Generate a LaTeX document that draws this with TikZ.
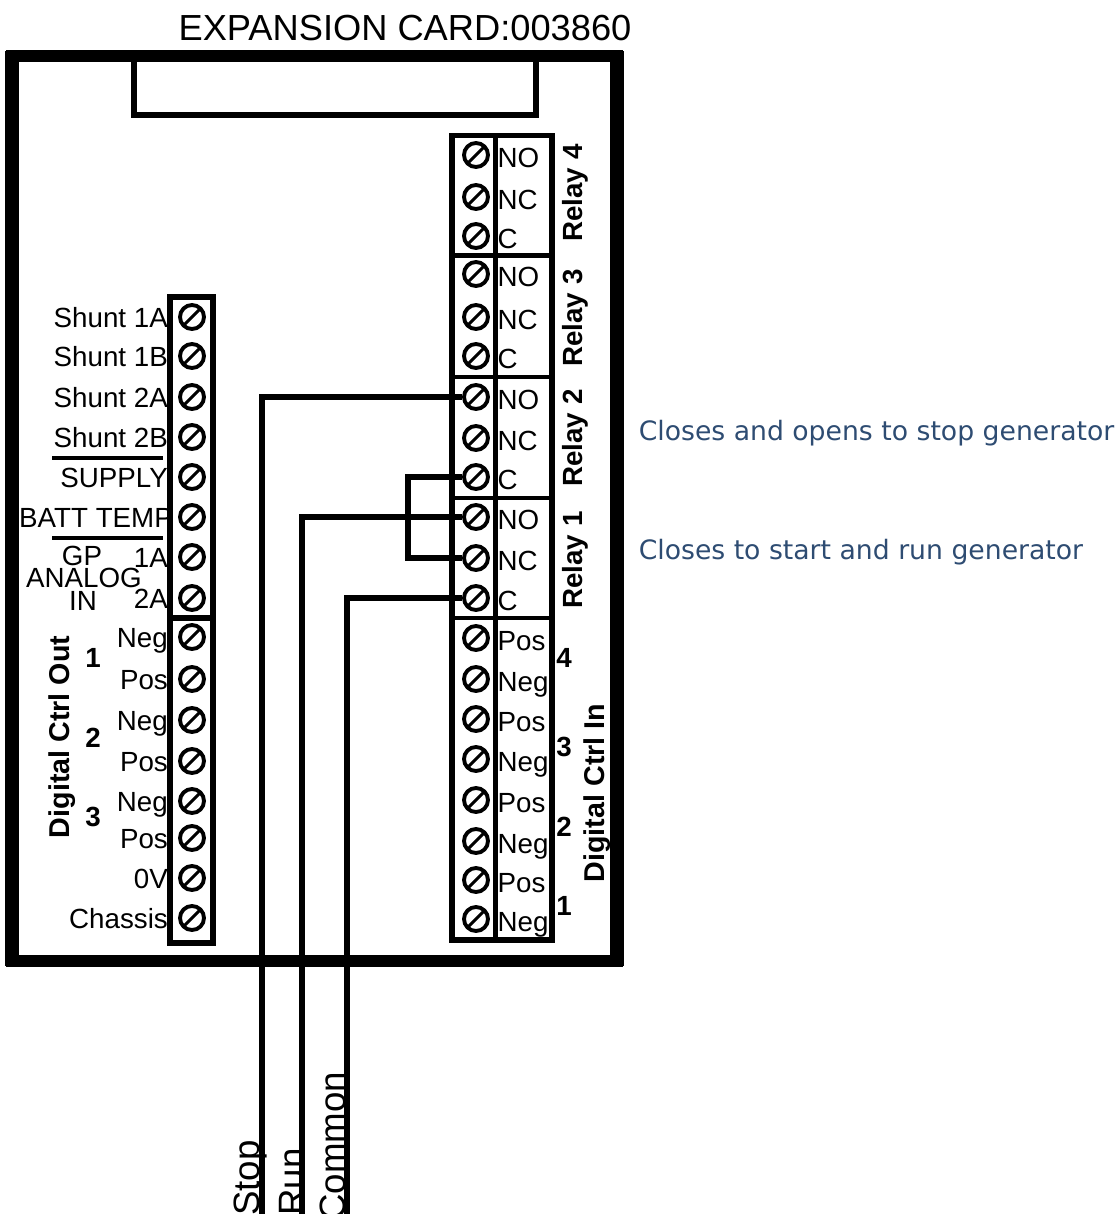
\documentclass[tikz,border=0pt]{standalone}
\usepackage{fontspec}
\setmainfont{Liberation Sans}
\newfontfamily\notefont{DejaVu Sans}
\definecolor{notecol}{HTML}{2E4C72}
\tikzset{
	txt/.style={inner sep=0pt, font=\fontsize{20.8}{22}\selectfont},
	lbl/.style={txt, text height=15pt, text depth=0pt},
	side/.style={inner sep=0pt, font=\fontsize{20.8}{22}\selectfont\bfseries},
	longside/.style={side, rotate=90, font=\fontsize{21.5}{22}\selectfont\bfseries},
	bottomtxt/.style={txt, rotate=90, anchor=base west, font=\fontsize{27.5}{28}\selectfont},
	note/.style={inner sep=0pt, anchor=base west, text=notecol, font=\fontsize{20}{22}\selectfont\notefont},
	screw/.style={draw, circle, line width=2.9pt, minimum size=18pt, inner sep=0pt,
		path picture={\draw[line width=2.3pt] (path picture bounding box.south west) -- (path picture bounding box.north east);}},
	lscrew/.style={screw, label={[lbl, label distance=10*0.75pt]180:#1}},
	rscrew/.style={screw, label={[lbl, yshift=-2pt, label distance=7.5*0.75pt]0:#1}},
	wire/.style={line width=4pt},
	blockline/.style={line width=3.6pt},
	leftline/.style={line width=4.4pt},
}
\begin{document}
\begin{tikzpicture}[x=0.75pt, y=-0.75pt]
		\useasboundingbox (0,0) rectangle (1118,1214);
		
		\node[inner sep=0pt, font=\fontsize{27.2}{28}\selectfont] (title) at (405,28) {EXPANSION CARD:003860};
		
		% left block
		\node[lscrew={Shunt 1A}] (s1a) at (192,317) {};
		\node[lscrew={Shunt 1B}] (s1b) at (192,356) {};
		\node[lscrew={Shunt 2A}] (s2a) at (192,397) {};
		\node[lscrew={Shunt 2B}] (s2b) at (192,437) {};
		\node[lscrew={SUPPLY}] (sup) at (192,477) {};
		\node[screw, label={[lbl, label distance=5*0.75pt]180:BATT TEMP}] (batt) at (192,517) {};
		\node[lscrew={1A}] (an1) at (192,557) {};
		\node[lscrew={2A}] (an2) at (192,598) {};
		\node[lscrew={Neg}] (o1n) at (192,637) {};
		\node[lscrew={Pos}] (o1p) at (192,679) {};
		\node[lscrew={Neg}] (o2n) at (192,720) {};
		\node[lscrew={Pos}] (o2p) at (192,761) {};
		\node[lscrew={Neg}] (o3n) at (192,801) {};
		\node[lscrew={Pos}] (o3p) at (192,838) {};
		\node[lscrew={0V}] (zero) at (192,878) {};
		\node[lscrew={Chassis}] (chas) at (192,918) {};
		
		\node[txt] (gp) at (82,556) {GP};
		\node[txt] (ana) at (84,578) {ANALOG};
		\node[txt] (in) at (83,601) {IN};
		
		% right block
		\node[rscrew={NO}] (r4no) at (476,155) {};
		\node[rscrew={NC}] (r4nc) at (476,197) {};
		\node[rscrew={C}] (r4c) at (476,236) {};
		\node[rscrew={NO}] (r3no) at (476,274) {};
		\node[rscrew={NC}] (r3nc) at (476,317) {};
		\node[rscrew={C}] (r3c) at (476,356) {};
		\node[rscrew={NO}] (r2no) at (476,397) {};
		\node[rscrew={NC}] (r2nc) at (476,438) {};
		\node[rscrew={C}] (r2c) at (476,477) {};
		\node[rscrew={NO}] (r1no) at (476,517) {};
		\node[rscrew={NC}] (r1nc) at (476,558) {};
		\node[rscrew={C}] (r1c) at (476,598) {};
		\node[rscrew={Pos}] (i4p) at (476,638) {};
		\node[rscrew={Neg}] (i4n) at (476,679) {};
		\node[rscrew={Pos}] (i3p) at (476,719) {};
		\node[rscrew={Neg}] (i3n) at (476,759) {};
		\node[rscrew={Pos}] (i2p) at (476,800) {};
		\node[rscrew={Neg}] (i2n) at (476,841) {};
		\node[rscrew={Pos}] (i1p) at (476,880) {};
		\node[rscrew={Neg}] (i1n) at (476,919) {};
		
		% side texts
		\node[longside] (dout) at (62,737) {Digital Ctrl Out};
		\node[side] (n1) at (93,658) {1};
		\node[side] (n2) at (93,738) {2};
		\node[side] (n3) at (93,817) {3};
		\node[side, rotate=90] (rel4) at (575,193) {Relay 4};
		\node[side, rotate=90] (rel3) at (575,318) {Relay 3};
		\node[side, rotate=90] (rel2) at (575,438) {Relay 2};
		\node[side, rotate=90] (rel1) at (575,560) {Relay 1};
		\node[longside] (din) at (597,793) {Digital Ctrl In};
		\node[side] (m4) at (564,658) {4};
		\node[side] (m3) at (564,747) {3};
		\node[side] (m2) at (564,827) {2};
		\node[side] (m1) at (564,906) {1};
		
		\node[bottomtxt] (stop) at (259,1216) {Stop};
		\node[bottomtxt] (run) at (304,1216) {Run};
		\node[bottomtxt] (com) at (345,1221) {Common};
		
		% frames
		\draw[line width=9pt] (12,56) rectangle (617,960.5);
		\draw[line width=10.5pt] (12,51) -- (12,966);
		\draw[line width=10.5pt] (617,51) -- (617,966);
		\draw[leftline, line width=3.8pt] (134,60) -- (134,115) -- (536,115) -- (536,60);
		\draw[leftline] (170,297) rectangle (213,943);
		\draw[leftline] (170,618) -- (213,618);
		\draw[leftline] (452,135.5) rectangle (552,940);
		\draw[blockline] (495.5,136) -- (495.5,940);
		\draw[blockline] (452,255.5) -- (552,255.5);
		\draw[blockline] (452,377) -- (552,377);
		\draw[blockline] (452,498) -- (552,498);
		\draw[blockline] (452,618) -- (552,618);
		\draw[line width=2.8pt] (52,458) -- (163,458);
		\draw[line width=2.8pt] (52,538) -- (163,538);
		
		% wires
		\coordinate (stopend) at (262,1214);
		\coordinate (runend) at (302,1214);
		\coordinate (comend) at (347,1214);
		\coordinate (jump) at (408,517);
		\draw[wire] (r2no.west) -| (stopend);
		\draw[wire] (r1no.west) -| (runend);
		\draw[wire] (r1c.west) -| (comend);
		\draw[wire] (r2c.west) -| (jump) |- (r1nc.west);
		
		\node[note] (stopnote) at (638.5,440) {Closes and opens to stop generator};
		\node[note] (runnote) at (638.5,559) {Closes to start and run generator};
		
	\end{tikzpicture}
\end{document}
